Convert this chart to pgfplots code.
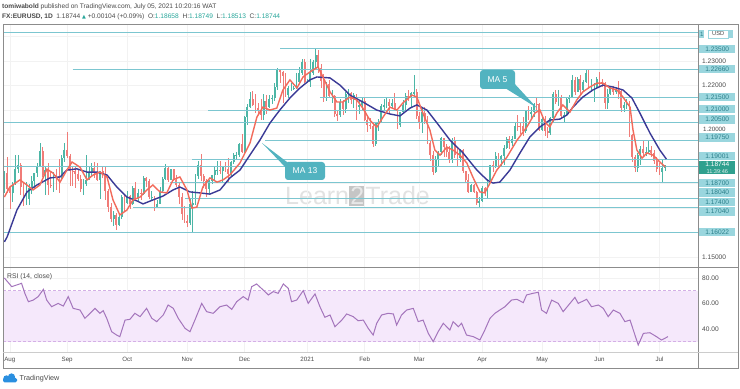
\documentclass[border=0pt]{standalone}
\usepackage{pgfplots}
\pgfplotsset{compat=1.18}
\usepackage{pgfplotstable}
\usepackage{fontspec}
\setmainfont{Liberation Sans}
\newfontfamily\symfont{DejaVu Sans}
\definecolor{upc}{HTML}{4DB6A6}
\definecolor{dnc}{HTML}{F07C78}
\definecolor{maf}{HTML}{F26B5B}
\definecolor{mas}{HTML}{3A3A96}
\definecolor{lvl}{HTML}{7CC6D0}
\definecolor{lblf}{HTML}{9AD6DE}
\definecolor{lblt}{HTML}{2B7F8A}
\definecolor{curp}{HTML}{2FA08E}
\definecolor{rsil}{HTML}{A475BC}
\definecolor{rsib}{HTML}{F5E8FB}
\definecolor{rsid}{HTML}{D4B0E6}
\definecolor{callc}{HTML}{52B3C0}
\definecolor{txtg}{HTML}{4A4A4A}
\definecolor{tvteal}{HTML}{26A69A}
\definecolor{tvblue}{HTML}{2A8FE0}
\definecolor{frm}{HTML}{8C8C8C}

\pgfplotsset{
  wick/.style 2 args={only marks, mark=*, mark size=0.01pt, mark options={draw opacity=0, fill opacity=0}, forget plot,
    restrict expr to domain={\thisrow{u}}{#1},
    error bars/.cd, y dir=both, y explicit, error mark=none,
    error bar style={line width=0.6bp, color=#2}},
  body/.style 2 args={only marks, mark=*, mark size=0.01pt, mark options={draw opacity=0, fill opacity=0}, forget plot,
    restrict expr to domain={\thisrow{u}}{#1},
    error bars/.cd, y dir=both, y explicit, error mark=none,
    error bar style={line width=1.9bp, color=#2}}
}

\pgfplotstableread{
i o h l c u
0 1.1790 1.1851 1.1760 1.1845 1
1 1.1845 1.1908 1.1762 1.1778 0
2 1.1778 1.1790 1.1696 1.1761 0
3 1.1761 1.1808 1.1724 1.1800 1
4 1.1800 1.1916 1.1794 1.1860 1
5 1.1860 1.1916 1.1845 1.1875 1
6 1.1875 1.1885 1.1753 1.1785 0
7 1.1785 1.1806 1.1710 1.1737 0
8 1.1737 1.1807 1.1712 1.1737 1
9 1.1737 1.1800 1.1712 1.1784 1
10 1.1784 1.1830 1.1756 1.1812 1
11 1.1812 1.1843 1.1780 1.1842 1
12 1.1842 1.1885 1.1825 1.1870 1
13 1.1870 1.1966 1.1866 1.1931 1
14 1.1931 1.1951 1.1826 1.1836 0
15 1.1836 1.1868 1.1753 1.1856 1
16 1.1856 1.1883 1.1753 1.1795 0
17 1.1795 1.1852 1.1781 1.1792 0
18 1.1792 1.1846 1.1766 1.1836 1
19 1.1836 1.1860 1.1772 1.1831 0
20 1.1831 1.1900 1.1762 1.1823 0
21 1.1823 1.1915 1.1817 1.1904 1
22 1.1904 1.1966 1.1888 1.1937 1
23 1.1937 1.2011 1.1903 1.1913 0
24 1.1913 1.1920 1.1789 1.1852 0
25 1.1852 1.1866 1.1791 1.1850 0
26 1.1850 1.1869 1.1782 1.1838 0
27 1.1838 1.1857 1.1810 1.1817 0
28 1.1817 1.1837 1.1766 1.1778 0
29 1.1778 1.1820 1.1752 1.1800 1
30 1.1800 1.1917 1.1790 1.1814 1
31 1.1814 1.1871 1.1813 1.1846 1
32 1.1846 1.1886 1.1833 1.1862 1
33 1.1862 1.1887 1.1822 1.1844 0
34 1.1844 1.1883 1.1812 1.1816 0
35 1.1816 1.1852 1.1737 1.1850 1
36 1.1850 1.1872 1.1822 1.1838 0
37 1.1838 1.1872 1.1733 1.1770 0
38 1.1770 1.1779 1.1682 1.1705 0
39 1.1705 1.1720 1.1645 1.1657 0
40 1.1657 1.1688 1.1627 1.1670 1
41 1.1670 1.1680 1.1612 1.1631 0
42 1.1631 1.1681 1.1627 1.1665 1
43 1.1665 1.1755 1.1655 1.1745 1
44 1.1745 1.1754 1.1685 1.1722 0
45 1.1722 1.1770 1.1718 1.1748 1
46 1.1748 1.1752 1.1695 1.1716 0
47 1.1716 1.1790 1.1712 1.1780 1
48 1.1780 1.1805 1.1728 1.1736 0
49 1.1736 1.1778 1.1730 1.1762 1
50 1.1762 1.1776 1.1735 1.1757 0
51 1.1757 1.1831 1.1755 1.1823 1
52 1.1823 1.1827 1.1787 1.1812 0
53 1.1812 1.1817 1.1737 1.1744 0
54 1.1744 1.1770 1.1730 1.1746 1
55 1.1746 1.1751 1.1689 1.1706 0
56 1.1706 1.1735 1.1703 1.1718 1
57 1.1718 1.1786 1.1715 1.1771 1
58 1.1771 1.1826 1.1762 1.1820 1
59 1.1820 1.1880 1.1815 1.1862 1
60 1.1862 1.1870 1.1808 1.1816 0
61 1.1816 1.1861 1.1815 1.1859 1
62 1.1859 1.1860 1.1810 1.1813 0
63 1.1813 1.1834 1.1786 1.1794 0
64 1.1794 1.1803 1.1718 1.1747 0
65 1.1747 1.1760 1.1650 1.1674 0
66 1.1674 1.1708 1.1640 1.1647 0
67 1.1647 1.1670 1.1622 1.1641 0
68 1.1641 1.1740 1.1630 1.1715 1
69 1.1715 1.1770 1.1603 1.1722 1
70 1.1722 1.1840 1.1711 1.1831 1
71 1.1831 1.1891 1.1818 1.1876 1
72 1.1876 1.1920 1.1810 1.1833 0
73 1.1833 1.1838 1.1780 1.1812 0
74 1.1812 1.1818 1.1745 1.1777 0
75 1.1777 1.1815 1.1756 1.1809 1
76 1.1809 1.1837 1.1800 1.1834 1
77 1.1834 1.1870 1.1812 1.1856 1
78 1.1856 1.1893 1.1834 1.1857 1
79 1.1857 1.1893 1.1838 1.1851 0
80 1.1851 1.1872 1.1801 1.1870 1
81 1.1870 1.1890 1.1846 1.1858 0
82 1.1858 1.1906 1.1802 1.1841 0
83 1.1841 1.1893 1.1830 1.1888 1
84 1.1888 1.1924 1.1880 1.1915 1
85 1.1915 1.1928 1.1900 1.1918 1
86 1.1918 1.1965 1.1907 1.1962 1
87 1.1962 1.2004 1.1925 1.1927 0
88 1.1927 1.2077 1.1925 1.2073 1
89 1.2073 1.2124 1.2040 1.2114 1
90 1.2114 1.2175 1.2110 1.2145 1
91 1.2145 1.2177 1.2116 1.2122 0
92 1.2122 1.2167 1.2090 1.2108 0
93 1.2108 1.2130 1.2085 1.2101 0
94 1.2101 1.2145 1.2058 1.2078 0
95 1.2078 1.2166 1.2060 1.2136 1
96 1.2136 1.2162 1.2083 1.2113 0
97 1.2113 1.2163 1.2110 1.2147 1
98 1.2147 1.2160 1.2125 1.2151 1
99 1.2151 1.2212 1.2139 1.2196 1
100 1.2196 1.2273 1.2181 1.2263 1
101 1.2263 1.2269 1.2209 1.2255 0
102 1.2255 1.2259 1.2130 1.2240 0
103 1.2240 1.2250 1.2153 1.2160 0
104 1.2160 1.2199 1.2150 1.2189 1
105 1.2189 1.2210 1.2177 1.2189 1
106 1.2189 1.2197 1.2182 1.2190 1
107 1.2190 1.2250 1.2187 1.2213 1
108 1.2213 1.2276 1.2205 1.2251 1
109 1.2251 1.2310 1.2243 1.2298 1
110 1.2298 1.2310 1.2210 1.2216 0
111 1.2216 1.2225 1.2212 1.2216 1
112 1.2216 1.2310 1.2195 1.2250 1
113 1.2250 1.2305 1.2245 1.2297 1
114 1.2297 1.2349 1.2265 1.2326 1
115 1.2326 1.2345 1.2253 1.2271 0
116 1.2271 1.2290 1.2191 1.2220 0
117 1.2220 1.2249 1.2132 1.2151 0
118 1.2151 1.2215 1.2135 1.2207 1
119 1.2207 1.2223 1.2150 1.2157 0
120 1.2157 1.2182 1.2130 1.2157 1
121 1.2157 1.2160 1.2072 1.2082 0
122 1.2082 1.2095 1.2054 1.2078 0
123 1.2078 1.2144 1.2073 1.2132 1
124 1.2132 1.2140 1.2079 1.2106 0
125 1.2106 1.2172 1.2090 1.2165 1
126 1.2165 1.2187 1.2128 1.2171 1
127 1.2171 1.2175 1.2123 1.2140 0
128 1.2140 1.2169 1.2108 1.2160 1
129 1.2160 1.2164 1.2058 1.2112 0
130 1.2112 1.2139 1.2083 1.2121 1
131 1.2121 1.2155 1.2102 1.2136 1
132 1.2136 1.2148 1.2054 1.2060 0
133 1.2060 1.2075 1.2011 1.2041 0
134 1.2041 1.2066 1.2021 1.2035 0
135 1.2035 1.2045 1.1951 1.1963 0
136 1.1963 1.2051 1.1952 1.2046 1
137 1.2046 1.2064 1.2013 1.2049 1
138 1.2049 1.2126 1.2046 1.2117 1
139 1.2117 1.2147 1.2100 1.2119 1
140 1.2119 1.2150 1.2110 1.2132 1
141 1.2132 1.2145 1.2087 1.2118 0
142 1.2118 1.2145 1.2110 1.2128 1
143 1.2128 1.2169 1.2100 1.2103 0
144 1.2103 1.2106 1.2023 1.2039 0
145 1.2039 1.2093 1.2032 1.2091 1
146 1.2091 1.2142 1.2084 1.2119 1
147 1.2119 1.2169 1.2091 1.2156 1
148 1.2156 1.2181 1.2137 1.2150 0
149 1.2150 1.2175 1.2113 1.2168 1
150 1.2168 1.2243 1.2155 1.2175 1
151 1.2175 1.2184 1.2064 1.2075 0
152 1.2075 1.2093 1.2022 1.2047 0
153 1.2047 1.2110 1.2006 1.2090 1
154 1.2090 1.2113 1.2043 1.2063 0
155 1.2063 1.2075 1.1962 1.1966 0
156 1.1966 1.1978 1.1893 1.1915 0
157 1.1915 1.1934 1.1836 1.1848 0
158 1.1848 1.1914 1.1843 1.1901 1
159 1.1901 1.1932 1.1872 1.1928 1
160 1.1928 1.1990 1.1918 1.1985 1
161 1.1985 1.1988 1.1910 1.1951 0
162 1.1951 1.1960 1.1910 1.1930 0
163 1.1930 1.1952 1.1885 1.1900 0
164 1.1900 1.1988 1.1884 1.1976 1
165 1.1976 1.1990 1.1903 1.1915 0
166 1.1915 1.1945 1.1873 1.1905 0
167 1.1905 1.1942 1.1888 1.1937 1
168 1.1937 1.1942 1.1842 1.1851 0
169 1.1851 1.1853 1.1808 1.1814 0
170 1.1814 1.1839 1.1761 1.1766 0
171 1.1766 1.1800 1.1764 1.1794 1
172 1.1794 1.1799 1.1760 1.1765 0
173 1.1765 1.1770 1.1712 1.1719 0
174 1.1719 1.1745 1.1704 1.1728 1
175 1.1728 1.1790 1.1726 1.1780 1
176 1.1780 1.1787 1.1750 1.1764 0
177 1.1764 1.1820 1.1737 1.1814 1
178 1.1814 1.1875 1.1802 1.1874 1
179 1.1874 1.1892 1.1846 1.1869 0
180 1.1869 1.1928 1.1862 1.1914 1
181 1.1914 1.1925 1.1871 1.1900 0
182 1.1900 1.1915 1.1872 1.1911 1
183 1.1911 1.1957 1.1877 1.1945 1
184 1.1945 1.1990 1.1941 1.1980 1
185 1.1980 1.1994 1.1940 1.1966 0
186 1.1966 1.1995 1.1954 1.1983 1
187 1.1983 1.2048 1.1980 1.2036 1
188 1.2036 1.2080 1.2016 1.2034 0
189 1.2034 1.2048 1.2001 1.2033 0
190 1.2033 1.2070 1.1995 1.2014 0
191 1.2014 1.2100 1.2008 1.2097 1
192 1.2097 1.2116 1.2058 1.2085 0
193 1.2085 1.2112 1.2064 1.2091 1
194 1.2091 1.2130 1.2071 1.2126 1
195 1.2126 1.2150 1.2102 1.2125 0
196 1.2125 1.2128 1.2016 1.2020 0
197 1.2020 1.2075 1.2015 1.2063 1
198 1.2063 1.2075 1.1993 1.2014 0
199 1.2014 1.2030 1.1986 1.2005 0
200 1.2005 1.2071 1.1998 1.2067 1
201 1.2067 1.2172 1.2051 1.2165 1
202 1.2165 1.2180 1.2125 1.2131 0
203 1.2131 1.2181 1.2118 1.2148 1
204 1.2148 1.2162 1.2069 1.2074 0
205 1.2074 1.2093 1.2052 1.2080 1
206 1.2080 1.2155 1.2077 1.2144 1
207 1.2144 1.2160 1.2130 1.2152 1
208 1.2152 1.2245 1.2150 1.2222 1
209 1.2222 1.2235 1.2162 1.2175 0
210 1.2175 1.2235 1.2173 1.2226 1
211 1.2226 1.2242 1.2165 1.2180 0
212 1.2180 1.2224 1.2172 1.2213 1
213 1.2213 1.2266 1.2210 1.2250 1
214 1.2250 1.2262 1.2186 1.2193 0
215 1.2193 1.2227 1.2174 1.2193 1
216 1.2193 1.2210 1.2133 1.2193 1
217 1.2193 1.2233 1.2190 1.2226 1
218 1.2226 1.2254 1.2195 1.2214 0
219 1.2214 1.2228 1.2195 1.2212 0
220 1.2212 1.2215 1.2104 1.2127 0
221 1.2127 1.2184 1.2104 1.2166 1
222 1.2166 1.2197 1.2160 1.2192 1
223 1.2192 1.2200 1.2160 1.2174 0
224 1.2174 1.2195 1.2165 1.2180 1
225 1.2180 1.2218 1.2146 1.2176 0
226 1.2176 1.2180 1.2093 1.2108 0
227 1.2108 1.2132 1.2093 1.2121 1
228 1.2121 1.2146 1.2105 1.2125 1
229 1.2125 1.2138 1.1992 1.1997 0
230 1.1997 1.2004 1.1890 1.1909 0
231 1.1909 1.1918 1.1847 1.1864 0
232 1.1864 1.1924 1.1849 1.1917 1
233 1.1917 1.1954 1.1877 1.1940 1
234 1.1940 1.1975 1.1912 1.1925 0
235 1.1925 1.1950 1.1911 1.1929 1
236 1.1929 1.1973 1.1926 1.1936 1
237 1.1936 1.1952 1.1910 1.1925 0
238 1.1925 1.1935 1.1881 1.1894 0
239 1.1894 1.1910 1.1847 1.1858 0
240 1.1858 1.1885 1.1836 1.1847 0
241 1.1847 1.1895 1.1807 1.1864 1
242 1.1864 1.1875 1.1851 1.1874 1
}\candles

\begin{document}
\begin{tikzpicture}
\path[use as bounding box, fill=white] (0,0) rectangle (740bp,389bp);

% watermark (behind everything)
\begin{scope}[shift={(0bp,389bp)}, x=1bp, y=-1bp]
\node[anchor=base west, inner sep=0pt, opacity=0.6, font=\fontsize{25bp}{25bp}\selectfont, text=gray!38] at (285,205)
  {Learn{\setlength{\fboxsep}{1.2bp}\colorbox{gray!75}{\textcolor{white}{2}}}Trade};
\end{scope}

% ---------------- main price pane ----------------
\begin{axis}[at={(3bp,122bp)}, anchor=south west, scale only axis,
  width=695bp, height=243bp,
  xmin=-0.5, xmax=254.1, ymin=1.14596, ymax=1.24511,
  axis line style={draw=frm, line width=0.6bp},
  xtick={2,23,45,67,88,111,132,152,175,197,218,240},
  xticklabels={{},{},{},{},{},{},{},{},{},{},{},{}},
  ytick={1.15,1.16,1.17,1.18,1.19,1.20,1.21,1.22,1.23,1.24},
  yticklabels={1.15000,{},{},{},{},{},{},1.22000,1.23000,{}},
  yticklabel pos=right,
  yticklabel style={font=\fontsize{6.6bp}{7bp}\selectfont, text=txtg, anchor=west, inner sep=0pt, xshift=4bp},
  major tick length=0pt,
  grid=major, grid style={draw=gray!10, line width=0.5bp},
  clip=true]
% wicks
\addplot[wick={0.5:2}{upc}]
  table[x=i, y expr={(\thisrow{h}+\thisrow{l})/2}, y error expr={(\thisrow{h}-\thisrow{l})/2}] {\candles};
\addplot[wick={-1:0.5}{dnc}]
  table[x=i, y expr={(\thisrow{h}+\thisrow{l})/2}, y error expr={(\thisrow{h}-\thisrow{l})/2}] {\candles};
% bodies
\addplot[body={0.5:2}{upc}]
  table[x=i, y expr={(\thisrow{o}+\thisrow{c})/2}, y error expr={abs(\thisrow{c}-\thisrow{o})/2}] {\candles};
\addplot[body={-1:0.5}{dnc}]
  table[x=i, y expr={(\thisrow{o}+\thisrow{c})/2}, y error expr={abs(\thisrow{c}-\thisrow{o})/2}] {\candles};
% horizontal levels
\addplot[lvl, line width=0.9bp] coordinates {(-0.5,1.2415) (254.1,1.2415)};
\addplot[lvl, line width=0.9bp] coordinates {(101,1.2350) (254.1,1.2350)};
\addplot[lvl, line width=0.9bp] coordinates {(25,1.2266) (254.1,1.2266)};
\addplot[lvl, line width=0.9bp] coordinates {(115.6,1.2150) (254.1,1.2150)};
\addplot[lvl, line width=0.9bp] coordinates {(74.6,1.2100) (254.1,1.2100)};
\addplot[lvl, line width=0.9bp] coordinates {(-0.5,1.2050) (254.1,1.2050)};
\addplot[lvl, line width=0.9bp] coordinates {(95.5,1.1975) (254.1,1.1975)};
\addplot[lvl, line width=0.9bp] coordinates {(68.7,1.19001) (254.1,1.19001)};
\addplot[lvl, line width=0.9bp] coordinates {(-0.5,1.1870) (254.1,1.1870)};
\addplot[lvl, line width=0.9bp] coordinates {(60.7,1.1804) (254.1,1.1804)};
\addplot[lvl, line width=0.9bp] coordinates {(66.2,1.1740) (254.1,1.1740)};
\addplot[lvl, line width=0.9bp] coordinates {(47.1,1.1704) (254.1,1.1704)};
\addplot[lvl, line width=0.9bp] coordinates {(-0.5,1.16022) (254.1,1.16022)};
% MA 13
\addplot[mas, line width=1.4bp] coordinates {(0,1.1562)(1,1.1582)(4.6,1.1692)(8.3,1.1766)(11.9,1.1794)(16.7,1.1823)(20.4,1.1827)(22.9,1.1855)(26.6,1.1860)(30.3,1.1847)(33.9,1.1847)(37.6,1.1835)(41.2,1.1786)(44.9,1.1745)(48.6,1.1729)(50.8,1.1717)(54.4,1.1733)(58.1,1.1749)(61.8,1.1774)(64.3,1.1786)(68,1.1766)(71.6,1.1762)(75.3,1.1757)(79,1.1774)(82.6,1.1823)(86.3,1.1855)(90,1.1917)(93.6,1.1977)(97.3,1.2047)(100.9,1.2100)(104.6,1.2149)(108.3,1.2190)(111.9,1.2223)(114.5,1.2235)(119.3,1.2231)(122.9,1.2202)(126.6,1.2161)(131.3,1.2133)(136.4,1.2100)(141.2,1.2084)(144.9,1.2076)(148.6,1.2108)(151.1,1.2121)(154.8,1.2100)(158.5,1.2047)(163.2,1.1978)(168,1.1925)(173.1,1.1855)(176.8,1.1815)(179,1.1802)(181.5,1.1806)(185.2,1.1855)(188.9,1.1925)(192.5,1.1990)(196.2,1.2031)(199.8,1.2059)(203.5,1.2063)(206.1,1.2080)(208.3,1.2112)(211.9,1.2153)(215.6,1.2182)(219.3,1.2202)(222.9,1.2194)(226.6,1.2182)(229.9,1.2149)(232.8,1.2088)(236.5,1.2006)(240.1,1.1937)(242.5,1.1900)};
% MA 5
\addplot[maf, line width=1.4bp] coordinates {(0,1.1745)(2,1.1786)(5.7,1.1815)(8.3,1.1794)(10.5,1.1774)(13,1.1794)(15.6,1.1859)(17.8,1.1843)(20.4,1.1806)(22.9,1.1855)(24.8,1.1888)(27.7,1.1867)(30.3,1.1815)(32.5,1.1835)(35,1.1847)(37.6,1.1827)(39.8,1.1733)(42.3,1.1672)(44.9,1.1692)(47.1,1.1733)(49.7,1.1745)(52.2,1.1774)(54.4,1.1794)(57,1.1766)(59.5,1.1762)(61.8,1.1815)(64.3,1.1827)(66.9,1.1774)(68.7,1.1700)(70.5,1.1704)(72.7,1.1786)(75.3,1.1823)(77.9,1.1806)(80.1,1.1815)(82.6,1.1835)(86.3,1.1884)(90,1.1966)(92.5,1.2071)(94.7,1.2112)(97.3,1.2100)(99.8,1.2108)(102,1.2181)(104.6,1.2223)(107.2,1.2190)(109.4,1.2235)(111.9,1.2255)(114.9,1.2276)(116.7,1.2235)(119.3,1.2174)(121.8,1.2133)(124,1.2133)(126.6,1.2153)(129.1,1.2141)(131.3,1.2108)(133.9,1.2059)(136.4,1.2030)(138.7,1.2071)(141.2,1.2112)(143.8,1.2100)(146,1.2129)(149.3,1.2161)(151.1,1.2153)(153.3,1.2088)(155.9,1.2018)(157.7,1.1937)(159.6,1.1916)(162.1,1.1949)(164.3,1.1937)(166.9,1.1916)(169.4,1.1884)(171.6,1.1827)(174.2,1.1766)(176,1.1762)(177.9,1.1802)(180.4,1.1855)(184.1,1.1908)(187.8,1.1977)(191.4,1.2031)(194.4,1.2088)(196.2,1.2100)(198,1.2051)(199.8,1.2031)(202.4,1.2088)(204.6,1.2121)(207.2,1.2092)(209.7,1.2141)(211.9,1.2174)(214.5,1.2194)(217.1,1.2210)(219.3,1.2210)(221.8,1.2190)(224.4,1.2182)(226.6,1.2153)(229.2,1.2112)(230.3,1.2018)(231.7,1.1937)(233.6,1.1904)(235.4,1.1925)(237.6,1.1916)(240.1,1.1888)(242.1,1.1868)};
\end{axis}

% ---------------- RSI pane ----------------
\begin{axis}[at={(3bp,37bp)}, anchor=south west, scale only axis,
  width=695bp, height=85bp,
  xmin=-0.5, xmax=254.1, ymin=22, ymax=88.6,
  axis line style={draw=frm, line width=0.6bp},
  xtick={2,23,45,67,88,111,132,152,175,197,218,240},
  xticklabels={Aug,Sep,Oct,Nov,Dec,2021,Feb,Mar,Apr,May,Jun,Jul},
  xticklabel style={font=\fontsize{6.2bp}{7bp}\selectfont, text=txtg, anchor=north, inner sep=0pt, yshift=-5bp},
  ytick={40,60,80}, yticklabels={40.00,60.00,80.00},
  yticklabel pos=right,
  yticklabel style={font=\fontsize{6.6bp}{7bp}\selectfont, text=txtg, anchor=west, inner sep=0pt, xshift=4bp},
  major tick length=0pt,
  grid=major, grid style={draw=gray!10, line width=0.5bp},
  clip=true]
\addplot[fill=rsib, draw=none] coordinates {(-0.5,30) (254.1,30) (254.1,70) (-0.5,70)} -- cycle;
\addplot[rsid, line width=0.6bp, dash pattern=on 3bp off 2bp] coordinates {(-0.5,70) (254.1,70)};
\addplot[rsid, line width=0.6bp, dash pattern=on 3bp off 2bp] coordinates {(-0.5,30) (254.1,30)};
\addplot[rsil, line width=1bp] coordinates {(0,80)(2.7,73.2)(4.5,74.5)(6.3,75.8)(7.5,68)(8.8,61.4)(10.6,62.7)(12.4,65.4)(14.3,71.1)(15.5,62.7)(17.3,57.5)(18.5,58.8)(19.7,60.1)(21.6,58)(23.4,65.4)(25.2,56.2)(27.7,54.9)(29.5,48.4)(31.4,52.3)(33.2,56.2)(35,52.3)(36.2,54.4)(37.5,48.4)(39.3,37.9)(41.1,35.3)(42.3,34)(44.2,47)(46,47.6)(47.8,52.3)(49.7,49.7)(52.1,56.2)(54,48.4)(55.8,45.8)(58.2,51)(60,58.8)(61.9,56.2)(63.7,48.4)(66.2,40.5)(68,37.9)(69.8,47)(72.3,60.1)(74.1,53.6)(76.5,52.3)(79,57.5)(81.4,58.8)(83.3,55.4)(85.1,61.4)(87.5,65.4)(89.3,62.7)(90.6,73.2)(92.4,75.3)(94.8,70.6)(96.7,66.7)(98.5,69.3)(100.3,68)(102.2,75.3)(104,71.9)(105.2,61.4)(107.1,62.7)(109.5,70.1)(111.3,60.1)(113.8,67.5)(115.6,57.5)(117.4,49.2)(119.3,51)(121.1,41.8)(123.6,47)(125.4,51.8)(127.8,49.7)(129.6,46.5)(131.5,47)(133.3,40.5)(135.1,35.3)(136.4,44.5)(138.2,51)(140.6,52.3)(142.5,51.8)(143.7,43.1)(145.5,51)(147.4,54.9)(149.8,56.2)(151.6,45.8)(153.4,47)(155.3,36.6)(157.1,30.1)(158.9,37.9)(160.8,44.5)(163.2,39.2)(164.4,45.8)(166.3,41.8)(167.5,44.5)(169.3,35.3)(171.8,34)(174.2,31.4)(176,39.2)(177.9,48.4)(179.7,52.3)(181.5,54.9)(183.4,57.5)(185.8,62.7)(187.7,63.3)(190.1,60.7)(191.3,66.7)(193.7,68)(195.6,68.8)(196.8,54.9)(198.6,52.3)(200.5,62.7)(202.9,60.1)(204.7,53.6)(207.2,60.1)(209,64.8)(210.2,60.1)(211.5,61.4)(213.3,63.3)(215.1,57.5)(217.6,58.8)(219.4,56.2)(221.2,49.7)(223.1,54.9)(225.5,52.3)(227.3,45.8)(229.2,47)(231,35.3)(232.2,27.5)(234.1,36.6)(236.5,37.1)(238.9,34)(240.7,31.4)(243.1,34)};
\end{axis}

% ---------------- annotations in pixel coordinates ----------------
\begin{scope}[shift={(0bp,389bp)}, x=1bp, y=-1bp]
% frame
\draw[frm, line width=0.6bp] (3,24) rectangle (738,368);
\draw[frm, line width=0.6bp] (698,24) -- (698,368);
\draw[frm, line width=0.6bp] (698,267) -- (738,267);
\draw[gray!40, line width=0.5bp] (3,352) -- (738,352);

% header
\node[anchor=base west, inner sep=0pt, font=\fontsize{6.6bp}{7bp}\selectfont, text=txtg] at (2,8.5)
  {\textbf{tomiwabold} published on TradingView.com, July 05, 2021 10:20:16 WAT};
\node[anchor=base west, inner sep=0pt, font=\fontsize{6.6bp}{7bp}\selectfont, text=txtg] at (2,19)
  {\textbf{FX:EURUSD, 1D}\ \ 1.18744 {\color{tvteal}\symfont\fontsize{5bp}{6bp}\selectfont ▲} +0.00104 (+0.09\%)\ \ O:\textcolor{tvteal}{1.18658}\ \ H:\textcolor{tvteal}{1.18749}\ \ L:\textcolor{tvteal}{1.18513}\ \ C:\textcolor{tvteal}{1.18744}};

% RSI label
\node[anchor=west, inner sep=0pt, font=\fontsize{6.8bp}{7bp}\selectfont, text=txtg] at (7,277) {RSI (14, close)};

% price-scale labels
\tikzset{lb/.style={anchor=west, fill=lblf, text=lblt, font=\fontsize{6.6bp}{7bp}\selectfont,
  minimum width=36bp, minimum height=8.4bp, inner sep=0.6bp}}
\node[anchor=west, fill=lblf, text=lblt, font=\fontsize{6.2bp}{7bp}\selectfont, minimum height=8bp, inner sep=0.8bp] at (699,34) {1};
\node[anchor=west, draw=lblf, fill=white, text=txtg, font=\fontsize{5.8bp}{7bp}\selectfont, minimum height=8bp, inner sep=0.8bp, minimum width=20bp] at (708,34) {USD};
\fill[lblf] (729,30) rectangle (733,38);
\node[anchor=west, inner sep=0pt, text=txtg, font=\fontsize{6.2bp}{6.5bp}\selectfont] at (703,129.2) {1.20000};
\node[lb] at (699,49) {1.23500};
\node[lb] at (699,69) {1.22660};
\node[lb] at (699,97) {1.21500};
\node[lb] at (699,109) {1.21000};
\node[lb] at (699,119.5) {1.20500};
\node[lb] at (699,137.5) {1.19750};
\node[lb] at (699,156) {1.19001};
\node[anchor=north west, fill=curp, text=white, font=\fontsize{6.6bp}{7.4bp}\selectfont, text width=35bp, align=center, inner sep=0.6bp] at (699,161)
  {1.18744\\{\fontsize{5.6bp}{6.4bp}\selectfont\color{white!85!curp}11:39:46}};
\node[lb] at (699,183) {1.18700};
\node[lb] at (699,192.7) {1.18040};
\node[lb] at (699,202.3) {1.17400};
\node[lb] at (699,211.7) {1.17040};
\node[lb] at (699,232.3) {1.16022};

% MA callouts
\fill[callc] (262,143) -- (287,162) -- (287,169) -- cycle;
\node[fill=callc, text=white, rounded corners=3bp, minimum width=40bp, minimum height=18bp, inner sep=0pt,
  font=\fontsize{8.5bp}{9bp}\selectfont] at (305,171) {MA 13};
\fill[callc] (537,108) -- (505,88) -- (513,82) -- cycle;
\node[fill=callc, text=white, rounded corners=3bp, minimum width=35bp, minimum height=19bp, inner sep=0pt,
  font=\fontsize{8.5bp}{9bp}\selectfont] at (497.5,79.5) {MA 5};

% footer logo
\fill[tvblue] (6.5,378.5) circle (3.2bp);
\fill[tvblue] (11.5,377) circle (3.6bp);
\fill[tvblue, rounded corners=1.5bp] (3,378) rectangle (17,382.5);
\node[anchor=west, inner sep=0pt, font=\fontsize{7.2bp}{8bp}\selectfont, text=txtg] at (19.5,378.5) {TradingView};
\end{scope}
\end{tikzpicture}
\end{document}
